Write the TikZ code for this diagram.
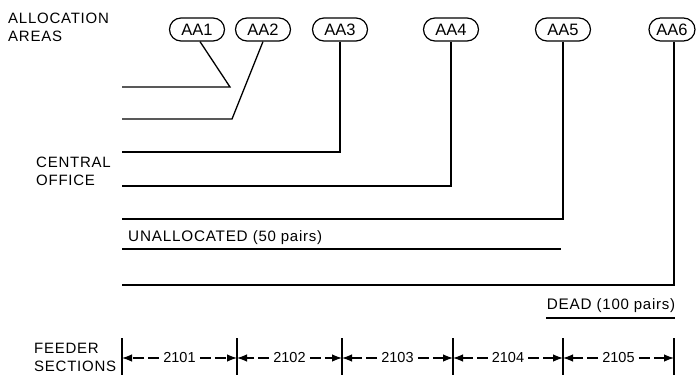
\documentclass[tikz,border=0pt]{standalone}
\usepackage{fontspec}
\setmainfont{Liberation Sans}
\newfontfamily\capsfont[LetterSpace=5]{Liberation Sans}
\usetikzlibrary{arrows.meta,calc}
\begin{document}
\begin{tikzpicture}[x=1pt,y=-1pt,
  aabox/.style={draw,line width=1.2pt,rounded corners=11.5pt,minimum height=23pt,minimum width=55pt,inner sep=0pt,font=\fontsize{16.5}{18}\selectfont},
  wire/.style={line width=1.3pt},
  lbl/.style={inner sep=0pt,align=left,font=\fontsize{15}{18}\capsfont},
  tick/.style={line width=1.2pt},
  dim/.style={line width=1.2pt,dash pattern=on 11pt off 4pt,-{Latex[length=10pt,width=7.5pt]}},
  seclbl/.style={inner sep=1pt,font=\fontsize{14.5}{16}\selectfont}]
\useasboundingbox (0,0) rectangle (697,375);
% allocation area nodes
\node[aabox] (AA1) at (197,29.5) {AA1};
\node[aabox] (AA2) at (263,29.5) {AA2};
\node[aabox] (AA3) at (340,29.5) {AA3};
\node[aabox] (AA4) at (451,29.5) {AA4};
\node[aabox] (AA5) at (563,29.5) {AA5};
\node[aabox,minimum width=46pt] (AA6) at (672,29.5) {AA6};
% side labels
\node[lbl,anchor=west] (alloc) at (8,27.5) {ALLOCATION\\AREAS};
\node[lbl,anchor=west] (co) at (36,171) {CENTRAL\\OFFICE};
\node[lbl,anchor=west] (feed) at (34,357.5) {FEEDER\\SECTIONS};
% corners and left ends
\coordinate (c1) at (230,87);
\coordinate (l1) at (122,87);
\coordinate (c2) at (232,119);
\coordinate (l2) at (122,119);
\coordinate (l3) at (122,152);
\coordinate (l4) at (122,186);
\coordinate (l5) at (122,219);
\coordinate (l6) at (122,285);
\coordinate (u0) at (122,249);
\coordinate (u1) at (561,249);
\draw[wire] ([xshift=3pt]AA1.south) -- (c1) -- (l1);
\draw[wire] (AA2.south) -- (c2) -- (l2);
\draw[wire] (AA3.south) |- (l3);
\draw[wire] (AA4.south) |- (l4);
\draw[wire] (AA5.south) |- (l5);
\draw[wire] ([xshift=2pt]AA6.south) |- (l6);
\draw[wire] (u0) -- (u1);
\node[anchor=south west,inner sep=0pt,font=\fontsize{15.3}{18}\capsfont] (unal) at (128,244.5) {UNALLOCATED {\fontsize{15}{18}\selectfont(50 pairs)}};
% dead
\coordinate (d0) at (546,318);
\coordinate (d1) at (675,318);
\draw[wire] (d0) -- (d1);
\node[anchor=south,inner sep=0pt,font=\fontsize{15.3}{18}\capsfont] (dead) at (611,313) {DEAD {\fontsize{15}{18}\selectfont(100 pairs)}};
% feeder section ticks
\foreach \n/\x in {t0/122,t1/237,t2/342,t3/453,t4/563,t5/674}{
  \coordinate (\n a) at (\x,338);
  \coordinate (\n b) at (\x,375);
  \coordinate (\n) at (\x,358);
  \draw[tick] (\n a) -- (\n b);
}
\foreach \s/\a/\b/\t in {s1/t0/t1/2101,s2/t1/t2/2102,s3/t2/t3/2103,s4/t3/t4/2104,s5/t4/t5/2105}{
  \node[seclbl] (\s) at ($(\a)!0.5!(\b)$) {\t};
  \draw[dim] ([xshift=-3pt]\s.west) -- (\a);
  \draw[dim] ([xshift=3pt]\s.east) -- (\b);
}
\end{tikzpicture}
\end{document}
